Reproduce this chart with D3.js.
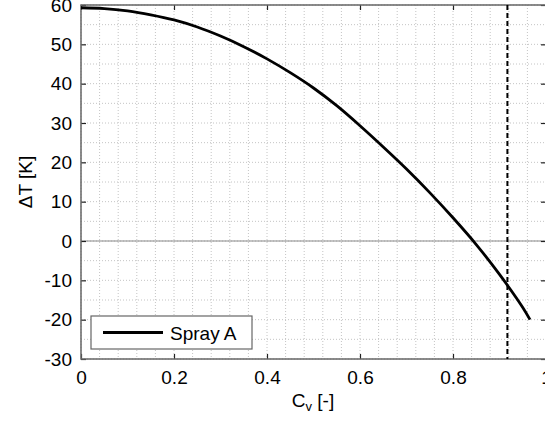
<!DOCTYPE html>
<html>
<head>
<meta charset="utf-8">
<script src="https://cdn.jsdelivr.net/npm/d3@7"></script>
<style>
  body{margin:0;background:#fff;}
  text{font-family:"Liberation Sans",Arial,Helvetica,sans-serif;}
</style>
</head>
<body>
<svg id="chart" width="545" height="421"></svg>
<script>
// data
var cv=[0,0.05,0.1,0.15,0.2,0.25,0.3,0.35,0.4,0.45,0.5,0.55,0.6,0.65,0.7,0.75,0.8,0.85,0.9,0.95,0.9656];
var dT=[59.3,59.1,58.5,57.5,56.2,54.4,52.1,49.4,46.3,42.8,38.9,34.4,29.3,23.9,18.3,12.3,5.9,-0.9,-8.5,-16.9,-20];
var xTicks=[0,0.2,0.4,0.6,0.8,1];
var yTicks=[-30,-20,-10,0,10,20,30,40,50,60];
var limitCv=0.917;
var legendLabel='Spray A';

var svg=d3.select('#chart');
var pl=81,pr=546,pt=5,pb=359;
var fs='19px';
var x=d3.scaleLinear().domain([0,1]).range([pl,pr]);
var y=d3.scaleLinear().domain([-30,60]).range([pb,pt]);

// minor + major grid, dotted
var xGrid=d3.range(0,1.0001,0.04);
var yGrid=d3.range(-30,60.001,5);
var grid=svg.append('g');
grid.selectAll('.gx').data(xGrid).enter().append('line')
  .attr('x1',d=>x(d)).attr('x2',d=>x(d)).attr('y1',pt).attr('y2',pb)
  .attr('stroke','#c4c4c4').attr('stroke-width',1).attr('stroke-dasharray','1,2');
grid.selectAll('.gy').data(yGrid).enter().append('line')
  .attr('x1',pl).attr('x2',pr).attr('y1',d=>y(d)).attr('y2',d=>y(d))
  .attr('stroke','#c4c4c4').attr('stroke-width',1).attr('stroke-dasharray','1,2');

// zero line
svg.append('line').attr('x1',pl).attr('x2',pr).attr('y1',y(0)).attr('y2',y(0))
  .attr('stroke','#8a8a8a').attr('stroke-width',1.2);

// axes, ticks inward
function styleAxis(g){
  g.select('.domain').remove();
  g.selectAll('.tick line').attr('stroke','#222').attr('stroke-width',1.2);
  g.selectAll('.tick text').attr('fill','#000').style('font-size',fs);
}
var plain=d=>String(d);
svg.append('g').attr('transform','translate(0,'+pb+')')
  .call(d3.axisBottom(x).tickValues(xTicks).tickSizeInner(-5).tickSizeOuter(0).tickPadding(12).tickFormat(plain))
  .call(styleAxis);
svg.append('g').attr('transform','translate(0,'+pt+')')
  .call(d3.axisTop(x).tickValues(xTicks).tickSizeInner(-5).tickSizeOuter(0).tickFormat(''))
  .call(styleAxis);
svg.append('g').attr('transform','translate('+pl+',0)')
  .call(d3.axisLeft(y).tickValues(yTicks).tickSizeInner(-5).tickSizeOuter(0).tickPadding(9).tickFormat(plain))
  .call(styleAxis);
svg.append('g').attr('transform','translate('+pr+',0)')
  .call(d3.axisRight(y).tickValues(yTicks).tickSizeInner(-5).tickSizeOuter(0).tickFormat(''))
  .call(styleAxis);

// box
svg.append('rect').attr('x',pl).attr('y',pt).attr('width',pr-pl).attr('height',pb-pt)
  .attr('fill','none').attr('stroke','#666').attr('stroke-width',1.5);

// vertical dashed limit
svg.append('line').attr('x1',x(limitCv)).attr('x2',x(limitCv)).attr('y1',pt).attr('y2',pb)
  .attr('stroke','#000').attr('stroke-width',2).attr('stroke-dasharray','5,3');

// curve
var pts=cv.map((v,i)=>({cv:v,dt:dT[i]}));
var line=d3.line().x(d=>x(d.cv)).y(d=>y(d.dt)).curve(d3.curveCatmullRom.alpha(0.5));
svg.append('path').datum(pts).attr('d',line)
  .attr('fill','none').attr('stroke','#000').attr('stroke-width',2.8);

// legend
var lg=svg.append('g');
lg.append('rect').attr('x',91).attr('y',316).attr('width',161).attr('height',33)
  .attr('fill','#fff').attr('stroke','#666').attr('stroke-width',1.2);
lg.append('line').attr('x1',103).attr('x2',163).attr('y1',332.5).attr('y2',332.5)
  .attr('stroke','#000').attr('stroke-width',2.8);
lg.append('text').attr('x',170).attr('y',340).style('font-size',fs).text(legendLabel);

// axis titles
var xt=svg.append('text').attr('x',313).attr('y',407).attr('text-anchor','middle').style('font-size',fs);
xt.append('tspan').text('C');
xt.append('tspan').attr('dy',4).style('font-size','13px').text('v');
xt.append('tspan').attr('dy',-4).text(' [-]');
svg.append('text').attr('transform','translate(32,182) rotate(-90)')
  .attr('text-anchor','middle').style('font-size',fs).text('ΔT [K]');
</script>
</body>
</html>
